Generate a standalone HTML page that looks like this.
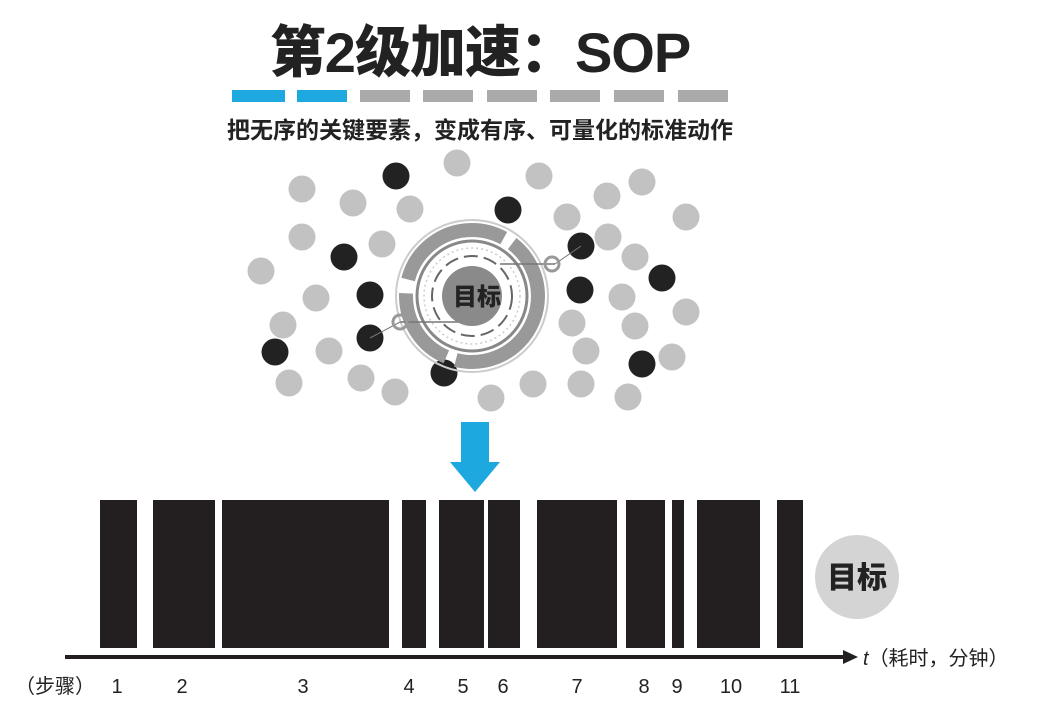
<!DOCTYPE html>
<html><head><meta charset="utf-8"><style>
body{margin:0;background:#fff;width:1041px;height:722px;overflow:hidden}
svg{display:block}
</style></head><body>
<svg width="1041" height="722" viewBox="0 0 1041 722" font-family="Liberation Sans, Noto Sans CJK SC, sans-serif">
<text x="480" y="72" text-anchor="middle" font-size="56" font-weight="900" fill="#222" letter-spacing="-1">第2级加速：SOP</text>
<g>
<rect x="232" y="90" width="53" height="12" fill="#1ea8e0"/>
<rect x="297" y="90" width="50" height="12" fill="#1ea8e0"/>
<rect x="360" y="90" width="50" height="12" fill="#aaa"/>
<rect x="423" y="90" width="50" height="12" fill="#aaa"/>
<rect x="487" y="90" width="50" height="12" fill="#aaa"/>
<rect x="550" y="90" width="50" height="12" fill="#aaa"/>
<rect x="614" y="90" width="50" height="12" fill="#aaa"/>
<rect x="678" y="90" width="50" height="12" fill="#aaa"/>
</g>
<text x="480" y="138" text-anchor="middle" font-size="23" font-weight="bold" fill="#222">把无序的关键要素，变成有序、可量化的标准动作</text>
<g fill="#c2c2c2">
<circle cx="457" cy="163" r="13.5"/><circle cx="302" cy="189" r="13.5"/><circle cx="353" cy="203" r="13.5"/><circle cx="410" cy="209" r="13.5"/><circle cx="539" cy="176" r="13.5"/><circle cx="607" cy="196" r="13.5"/><circle cx="642" cy="182" r="13.5"/><circle cx="686" cy="217" r="13.5"/><circle cx="567" cy="217" r="13.5"/><circle cx="302" cy="237" r="13.5"/><circle cx="382" cy="244" r="13.5"/><circle cx="608" cy="237" r="13.5"/><circle cx="635" cy="257" r="13.5"/><circle cx="261" cy="271" r="13.5"/><circle cx="316" cy="298" r="13.5"/><circle cx="283" cy="325" r="13.5"/><circle cx="622" cy="297" r="13.5"/><circle cx="686" cy="312" r="13.5"/><circle cx="572" cy="323" r="13.5"/><circle cx="635" cy="326" r="13.5"/><circle cx="586" cy="351" r="13.5"/><circle cx="672" cy="357" r="13.5"/><circle cx="329" cy="351" r="13.5"/><circle cx="289" cy="383" r="13.5"/><circle cx="361" cy="378" r="13.5"/><circle cx="395" cy="392" r="13.5"/><circle cx="491" cy="398" r="13.5"/><circle cx="533" cy="384" r="13.5"/><circle cx="581" cy="384" r="13.5"/><circle cx="628" cy="397" r="13.5"/>
</g>
<g fill="#222">
<circle cx="396" cy="176" r="13.5"/><circle cx="508" cy="210" r="13.5"/><circle cx="344" cy="257" r="13.5"/><circle cx="581" cy="246" r="13.5"/><circle cx="662" cy="278" r="13.5"/><circle cx="370" cy="295" r="13.5"/><circle cx="580" cy="290" r="13.5"/><circle cx="370" cy="338" r="13.5"/><circle cx="275" cy="352" r="13.5"/><circle cx="444" cy="373" r="13.5"/><circle cx="642" cy="364" r="13.5"/>
</g>
<g fill="none">
<circle cx="472" cy="296" r="76" stroke="#ccc" stroke-width="2"/>
<circle cx="472" cy="296" r="66" stroke="#999" stroke-width="14" stroke-dasharray="120 10 80 14"/>
<circle cx="472" cy="296" r="55" stroke="#888" stroke-width="3"/>
<circle cx="472" cy="296" r="48" stroke="#ccc" stroke-width="1.5" stroke-dasharray="2 3"/>
<circle cx="472" cy="296" r="40" stroke="#666" stroke-width="2" stroke-dasharray="14 6"/>
<line x1="400" y1="322" x2="470" y2="322" stroke="#777" stroke-width="1.5"/>
<line x1="500" y1="264" x2="555" y2="264" stroke="#777" stroke-width="1.5"/>
<line x1="555" y1="264" x2="581" y2="246" stroke="#777"/>
<line x1="400" y1="322" x2="370" y2="338" stroke="#777"/>
<circle cx="400" cy="322" r="7" stroke="#999" stroke-width="3"/>
<circle cx="552" cy="264" r="7" stroke="#999" stroke-width="3"/>
</g>
<circle cx="472" cy="296" r="30" fill="#8a8a8a"/>
<text x="477" y="305" text-anchor="middle" font-size="24" font-weight="900" fill="#222">目标</text>
<polygon points="461,422 489,422 489,462 500,462 475,492 450,462 461,462" fill="#1ea8e0"/>
<g fill="#231f20">
<rect x="100" y="500" width="37" height="148"/><rect x="153" y="500" width="62" height="148"/><rect x="222" y="500" width="167" height="148"/><rect x="402" y="500" width="24" height="148"/><rect x="439" y="500" width="45" height="148"/><rect x="488" y="500" width="32" height="148"/><rect x="537" y="500" width="80" height="148"/><rect x="626" y="500" width="39" height="148"/><rect x="672" y="500" width="12" height="148"/><rect x="697" y="500" width="63" height="148"/><rect x="777" y="500" width="26" height="148"/>
</g>
<circle cx="857" cy="577" r="42" fill="#d4d4d4"/>
<text x="857" y="588" text-anchor="middle" font-size="30" font-weight="900" fill="#222">目标</text>
<line x1="65" y1="657" x2="845" y2="657" stroke="#231f20" stroke-width="4"/>
<polygon points="843,650 858,657 843,664" fill="#231f20"/>
<text x="863" y="665" font-size="20" fill="#222"><tspan font-style="italic">t</tspan>（耗时，分钟）</text>
<g font-size="20" fill="#222" text-anchor="middle">
<text x="55" y="693">（步骤）</text>
<text x="117" y="693">1</text><text x="182" y="693">2</text><text x="303" y="693">3</text><text x="409" y="693">4</text><text x="463" y="693">5</text><text x="503" y="693">6</text><text x="577" y="693">7</text><text x="644" y="693">8</text><text x="677" y="693">9</text><text x="731" y="693">10</text><text x="790" y="693">11</text>
</g>
</svg>
</body></html>
